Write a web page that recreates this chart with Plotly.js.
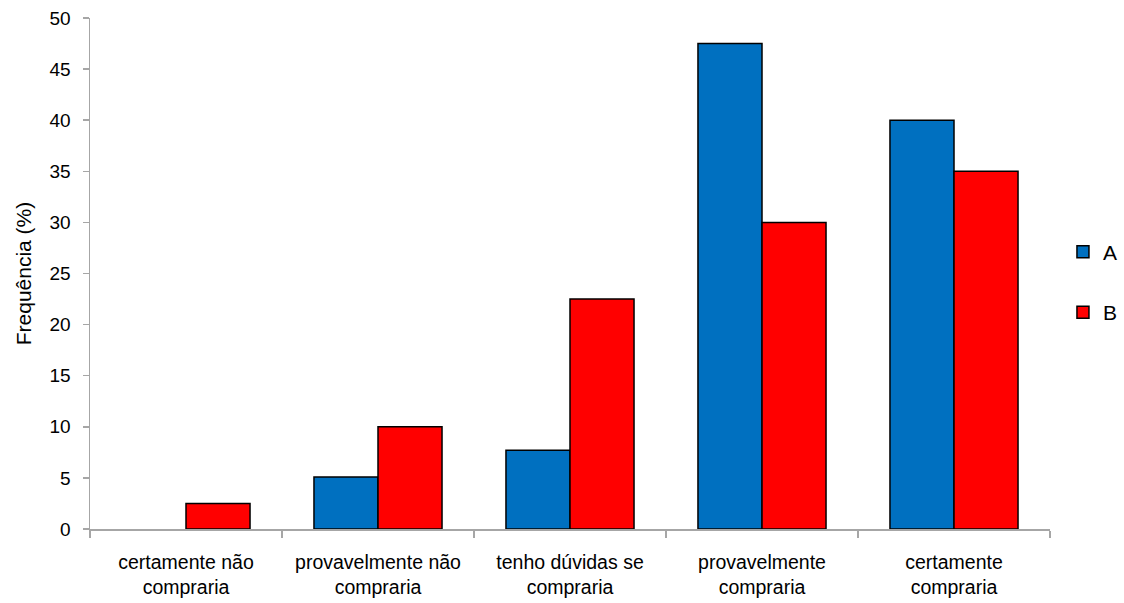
<!DOCTYPE html>
<html>
<head>
<meta charset="utf-8">
<script src="https://cdn.plot.ly/plotly-3.0.1.min.js"></script>
<style>
  html, body { margin: 0; padding: 0; background: #fff; }
  #chart { width: 1124px; height: 603px; }
</style>
</head>
<body>
<div id="chart"></div>
<script>
// Purchase intention categories (x axis)
const categories = [
  "certamente não<br>compraria",
  "provavelmente não<br>compraria",
  "tenho dúvidas se<br>compraria",
  "provavelmente<br>compraria",
  "certamente<br>compraria"
];

// Frequency (%) for each product
const seriesA = [0, 5.1, 7.7, 47.5, 40];
const seriesB = [2.5, 10, 22.5, 30, 35];

const yTicks = [0, 5, 10, 15, 20, 25, 30, 35, 40, 45, 50];

const axisGrey = "#a6a6a6";
const colorA = "#0070c0";
const colorB = "#ff0000";

// no outline on empty bars
const outline = vals => vals.map(v => (v > 0 ? 1.5 : 0));

// legend keys (no marks of their own), sharing the bars' offset groups
const legendKey = (name, color, group) => ({
  type: "bar", name, x: [categories[0]], y: [null],
  offsetgroup: group, legendgroup: group, hoverinfo: "skip",
  marker: { color, line: { color: "#000", width: 1.5 } }
});

const traces = [
  {
    type: "bar", name: "A", x: categories, y: seriesA,
    offsetgroup: "a", legendgroup: "a", showlegend: false,
    marker: { color: colorA, line: { color: "#000", width: outline(seriesA) } }
  },
  {
    type: "bar", name: "B", x: categories, y: seriesB,
    offsetgroup: "b", legendgroup: "b", showlegend: false,
    marker: { color: colorB, line: { color: "#000", width: outline(seriesB) } }
  },
  legendKey("A", colorA, "a"),
  legendKey("B", colorB, "b")
];

const layout = {
  width: 1124, height: 603,
  paper_bgcolor: "#fff", plot_bgcolor: "#fff",
  margin: { l: 90, r: 74, t: 18, b: 74, autoexpand: false },
  barmode: "group",
  bargap: 0.333, bargroupgap: 0,
  font: { family: "Liberation Sans, Arial, sans-serif", color: "#000" },
  showlegend: true,
  legend: {
    x: 1.0135, xanchor: "left", y: 0.483, yanchor: "middle",
    font: { size: 21, color: "#000" },
    tracegroupgap: 30,
    itemwidth: 30
  },
  xaxis: {
    type: "category",
    showline: true, linecolor: axisGrey, linewidth: 1.5,
    ticks: "outside", tickson: "boundaries", ticklen: 7, tickcolor: axisGrey, tickwidth: 1.5,
    ticklabelstandoff: 15,
    tickfont: { size: 19.5, color: "#000" },
    showgrid: false, zeroline: false
  },
  yaxis: {
    range: [0, 50],
    tickvals: yTicks, ticktext: yTicks.map(String),
    showline: true, linecolor: axisGrey, linewidth: 1.5,
    ticks: "outside", ticklen: 6, tickcolor: axisGrey, tickwidth: 1.5,
    ticklabelstandoff: 8,
    tickfont: { size: 19, color: "#000" },
    showgrid: false, zeroline: false,
    title: { text: "Frequência (%)", font: { size: 21, color: "#000" }, standoff: 12 }
  }
};

Plotly.newPlot("chart", traces, layout, { staticPlot: true, displayModeBar: false });
</script>
</body>
</html>
